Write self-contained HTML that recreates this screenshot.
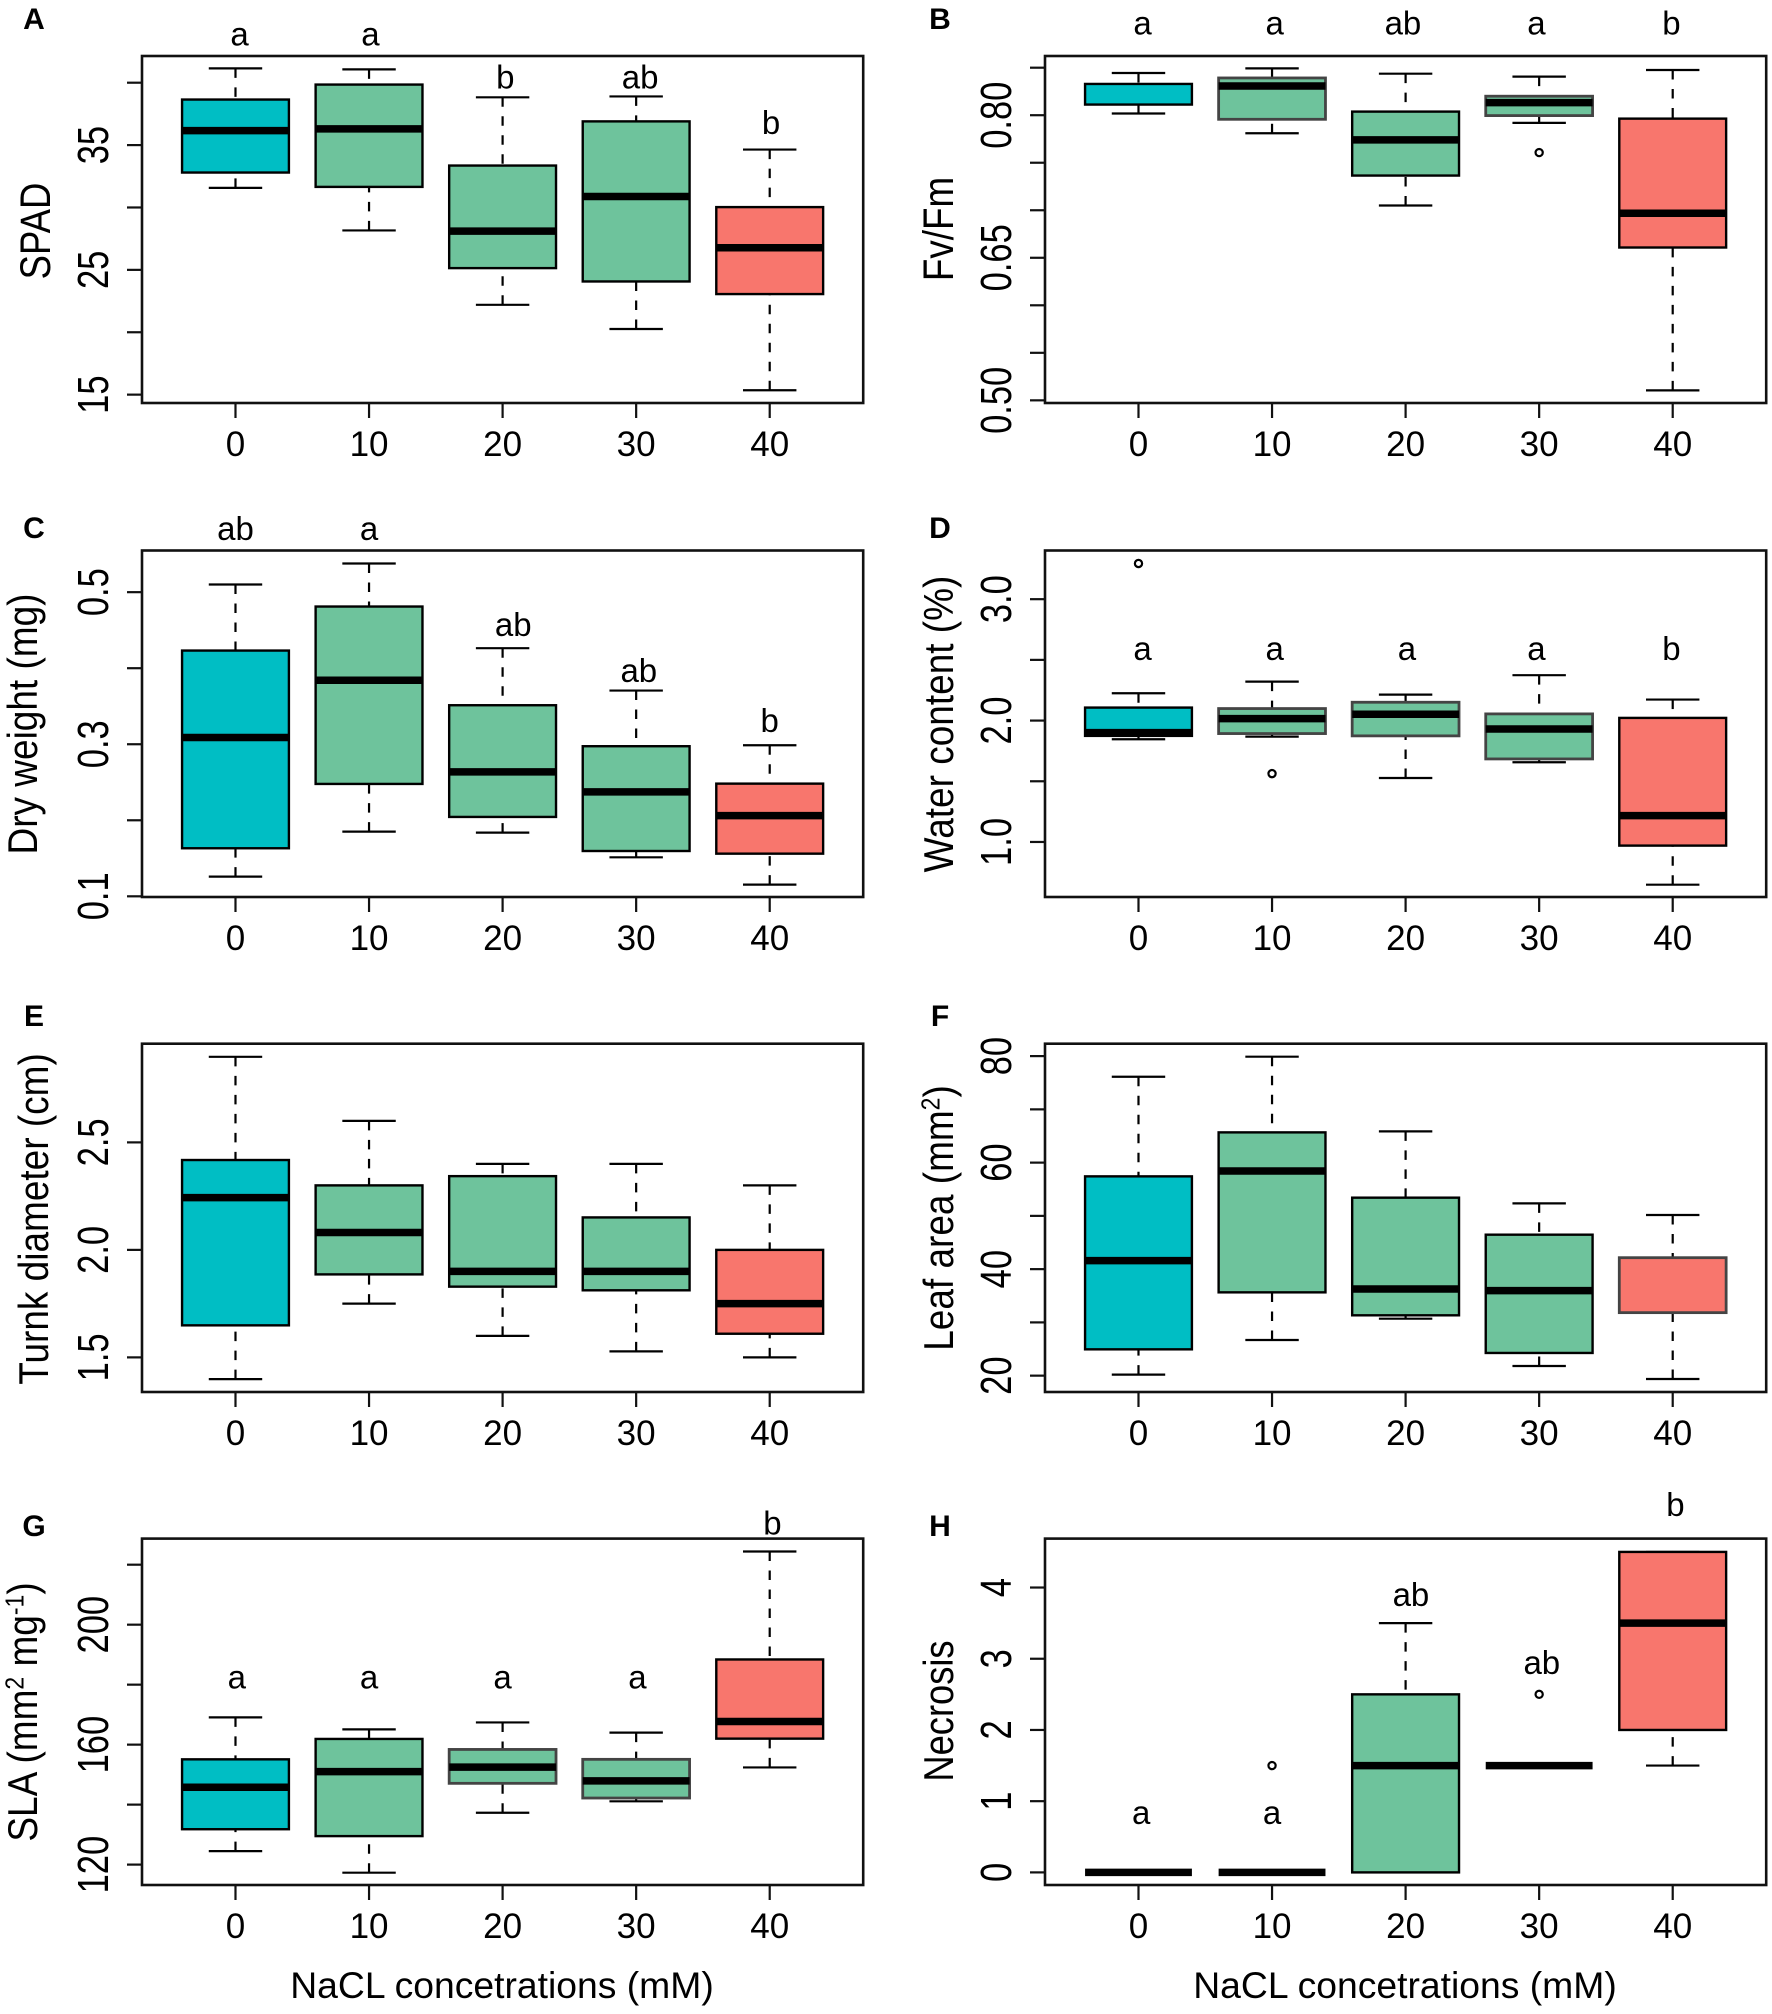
<!DOCTYPE html>
<html lang="en">
<head>
<meta charset="utf-8">
<title>Boxplots of plant traits under NaCl concentrations</title>
<style>
html,body{margin:0;padding:0;background:#fff;}
body{width:1772px;height:2014px;overflow:hidden;}
svg{display:block;}
text{font-family:"Liberation Sans",Arial,sans-serif;fill:#000;}
.panel-letter{font-weight:bold;font-size:30px;text-anchor:middle;}
.y-title{font-size:37px;text-anchor:middle;}
.x-title{font-size:37.3px;text-anchor:middle;}
</style>
</head>
<body>
<svg id="figure" xmlns="http://www.w3.org/2000/svg" width="1772" height="2014" viewBox="0 0 1772 2014">
  <rect x="0" y="0" width="1772" height="2014" fill="#fff"/>
  <g id="panels"></g>

  <text class="panel-letter" x="34" y="29">A</text>
  <text class="panel-letter" x="940" y="29">B</text>
  <text class="panel-letter" x="34" y="538">C</text>
  <text class="panel-letter" x="940" y="538">D</text>
  <text class="panel-letter" x="34" y="1026">E</text>
  <text class="panel-letter" x="940" y="1026">F</text>
  <text class="panel-letter" x="34" y="1536">G</text>
  <text class="panel-letter" x="940" y="1536">H</text>

  <text class="y-title" transform="translate(50,231) rotate(-90) scale(1,1.18)" style="font-size:36.5px">SPAD</text>
  <text class="y-title" transform="translate(953,229) rotate(-90) scale(1,1.15)" style="font-size:36.8px">Fv/Fm</text>
  <text class="y-title" transform="translate(37,724) rotate(-90) scale(1,1.12)">Dry weight (mg)</text>
  <text class="y-title" transform="translate(953,724) rotate(-90) scale(1,1.12)">Water content (%)</text>
  <text class="y-title" transform="translate(48,1219) rotate(-90) scale(1,1.12)">Turnk diameter (cm)</text>
  <text class="y-title" transform="translate(953,1218) rotate(-90) scale(1,1.12)">Leaf area (mm<tspan dy="-12" font-size="23">2</tspan><tspan dy="12">)</tspan></text>
  <text class="y-title" transform="translate(37,1712) rotate(-90) scale(1,1.12)">SLA (mm<tspan dy="-12" font-size="23">2</tspan><tspan dy="12"> mg</tspan><tspan dy="-12" font-size="23">-1</tspan><tspan dy="12">)</tspan></text>
  <text class="y-title" transform="translate(953,1711) rotate(-90) scale(1,1.15)" style="font-size:36.3px">Necrosis</text>

  <text class="x-title" x="502" y="1998">NaCL concetrations (mM)</text>
  <text class="x-title" x="1405" y="1998">NaCL concetrations (mM)</text>
</svg>

<script>
// Shared category labels
const categories = ['0', '10', '20', '30', '40'];

// A: SPAD
const spadDomain = [14.33, 42.14];
const spadTicks = [15, 20, 25, 30, 35, 40];
const spadTickLabels = ['15', '', '25', '', '35', ''];
const spadHigh = [41.15, 41.07, 38.83, 38.9, 34.64];
const spadQ3 = [38.65, 39.85, 33.36, 36.9, 30.03];
const spadMedian = [36.16, 36.3, 28.1, 30.88, 26.77];
const spadQ1 = [32.8, 31.65, 25.14, 24.07, 23.06];
const spadLow = [31.57, 28.16, 22.2, 20.26, 15.35];
const spadOutliers = [];
const spadLetters = ['a', 'a', 'b', 'ab', 'b'];
const spadLetterCats = [1.03, 2.01, 3.02, 4.03, 5.01];
const spadLetterVals = [42.97, 42.97, 39.55, 39.55, 35.9];

// B: Fv/Fm
const fvfmDomain = [0.4972, 0.8623];
const fvfmTicks = [0.5, 0.55, 0.6, 0.65, 0.7, 0.75, 0.8, 0.85];
const fvfmTickLabels = ['0.50', '', '', '0.65', '', '', '0.80', ''];
const fvfmHigh = [0.8444, 0.8493, 0.8437, 0.8406, 0.8476];
const fvfmQ3 = [0.8329, 0.8392, 0.8038, 0.82, 0.7964];
const fvfmMedian = [null, 0.8308, 0.774, 0.8132, 0.6969];
const fvfmQ1 = [0.8112, 0.7957, 0.7365, 0.7996, 0.6608];
const fvfmLow = [0.8018, 0.781, 0.705, 0.7919, 0.5105];
const fvfmOutliers = [[4, 0.7607]];
const fvfmLetters = ['a', 'a', 'ab', 'a', 'b'];
const fvfmLetterCats = [1.03, 2.02, 2.98, 3.98, 4.99];
const fvfmLetterVals = [0.885, 0.885, 0.885, 0.885, 0.885];

// C: Dry weight
const dryDomain = [0.0991, 0.5548];
const dryTicks = [0.1, 0.2, 0.3, 0.4, 0.5];
const dryTickLabels = ['0.1', '', '0.3', '', '0.5'];
const dryHigh = [0.5101, 0.5377, 0.4263, 0.3706, 0.2987];
const dryQ3 = [0.4232, 0.4811, 0.3513, 0.2974, 0.2482];
const dryMedian = [0.3088, 0.3842, 0.2636, 0.2373, 0.2061];
const dryQ1 = [0.1632, 0.2478, 0.2044, 0.1596, 0.1561];
const dryLow = [0.1259, 0.1851, 0.1838, 0.1513, 0.1154];
const dryOutliers = [];
const dryLetters = ['ab', 'a', 'ab', 'ab', 'b'];
const dryLetterCats = [1.0, 2.0, 3.08, 4.02, 5.0];
const dryLetterVals = [0.5684, 0.5684, 0.4421, 0.382, 0.3162];

// D: Water content
const waterDomain = [0.5467, 3.401];
const waterTicks = [1, 1.5, 2, 2.5, 3];
const waterTickLabels = ['1.0', '', '2.0', '', '3.0'];
const waterHigh = [2.225, 2.321, 2.214, 2.374, 2.173];
const waterQ3 = [2.107, 2.099, 2.151, 2.055, 2.022];
const waterMedian = [1.901, 2.016, 2.052, 1.931, 1.217];
const waterQ1 = [1.874, 1.893, 1.874, 1.684, 0.97];
const waterLow = [1.846, 1.868, 1.527, 1.657, 0.648];
const waterOutliers = [[1, 3.294], [2, 1.563]];
const waterLetters = ['a', 'a', 'a', 'a', 'b'];
const waterLetterCats = [1.03, 2.02, 3.01, 3.98, 4.99];
const waterLetterVals = [2.497, 2.497, 2.497, 2.497, 2.497];

// E: Trunk diameter
const trunkDomain = [1.339, 2.959];
const trunkTicks = [1.5, 2, 2.5];
const trunkTickLabels = ['1.5', '2.0', '2.5'];
const trunkHigh = [2.898, 2.6, 2.4, 2.4, 2.3];
const trunkQ3 = [2.418, 2.3, 2.343, 2.151, 2.0];
const trunkMedian = [2.243, 2.081, 1.9, 1.9, 1.75];
const trunkQ1 = [1.649, 1.886, 1.829, 1.812, 1.61];
const trunkLow = [1.399, 1.75, 1.6, 1.528, 1.5];
const trunkOutliers = [];
const trunkLetters = [];
const trunkLetterCats = [];
const trunkLetterVals = [];

// F: Leaf area
const leafDomain = [16.93, 82.33];
const leafTicks = [20, 30, 40, 50, 60, 70, 80];
const leafTickLabels = ['20', '', '40', '', '60', '', '80'];
const leafHigh = [76.13, 79.89, 65.87, 52.35, 50.16];
const leafQ3 = [57.42, 65.68, 53.42, 46.47, 42.15];
const leafMedian = [41.59, 58.42, 36.27, 35.96, null];
const leafQ1 = [24.94, 35.64, 31.33, 24.26, 31.83];
const leafLow = [20.19, 26.7, 30.7, 21.81, 19.37];
const leafOutliers = [];
const leafLetters = [];
const leafLetterCats = [];
const leafLetterVals = [];

// G: SLA
const slaDomain = [113.2, 228.7];
const slaTicks = [120, 140, 160, 180, 200, 220];
const slaTickLabels = ['120', '', '160', '', '200', ''];
const slaHigh = [169.1, 165.1, 167.4, 164, 224.4];
const slaQ3 = [155.1, 161.9, 158.4, 155.1, 188.4];
const slaMedian = [145.8, 151, 152.5, 147.9, 167.7];
const slaQ1 = [131.8, 129.5, 147.1, 142.2, 162];
const slaLow = [124.5, 117.3, 137.3, 141.1, 152.4];
const slaOutliers = [];
const slaLetters = ['a', 'a', 'a', 'a', 'b'];
const slaLetterCats = [1.01, 2.0, 3.0, 4.01, 5.02];
const slaLetterVals = [178.8, 178.8, 178.8, 178.8, 230.1];

// H: Necrosis
const necrosisDomain = [-0.177, 4.687];
const necrosisTicks = [0, 1, 2, 3, 4];
const necrosisTickLabels = ['0', '1', '2', '3', '4'];
const necrosisHigh = [0, 0, 3.5, 1.5, 4.5];
const necrosisQ3 = [0, 0, 2.5, 1.5, 4.5];
const necrosisMedian = [0, 0, 1.5, 1.5, 3.5];
const necrosisQ1 = [0, 0, 0, 1.5, 2];
const necrosisLow = [0, 0, 0, 1.5, 1.5];
const necrosisOutliers = [[2, 1.5], [4, 2.5]];
const necrosisLetters = ['a', 'a', 'ab', 'ab', 'b'];
const necrosisLetterCats = [1.02, 2.0, 3.04, 4.02, 5.02];
const necrosisLetterVals = [0.683, 0.683, 3.741, 2.785, 5.007];

const NS = 'http://www.w3.org/2000/svg';
const root = document.getElementById('panels');

function make(parent, tag, attrs, text) {
  const node = document.createElementNS(NS, tag);
  for (const k in attrs) node.setAttribute(k, attrs[k]);
  if (text !== undefined) node.textContent = text;
  parent.appendChild(node);
  return node;
}

function boxFill(i) {
  if (i === 0) return '#00BEC4';
  if (i === 4) return '#F8766D';
  return '#6EC39C';
}

function drawPanel(key, left, top, bottom, domain, ticks, tickLabels, high, q3, median, q1, low, outliers, letters, letterCats, letterVals, softBoxes) {
  const plotWidth = 721.2;
  const step = plotWidth / 5.4;
  const xAt = function (c) { return left + (c - 0.3) * step; };
  const yAt = function (v) { return bottom - (v - domain[0]) / (domain[1] - domain[0]) * (bottom - top); };

  const g = make(root, 'g', {});
  
  

  // y axis
  ticks.forEach(function (t, i) {
    const tick = make(g, 'line', { x1: left - 15, x2: left, y1: yAt(t), y2: yAt(t), stroke: '#111', 'stroke-width': 2.2 });
    
    
    if (tickLabels[i]) {
      const yLabel = make(g, 'text', {
        transform: 'translate(' + (left - 34) + ',' + yAt(t) + ') rotate(-90) scale(1,1.25)',
        'text-anchor': 'middle', 'font-size': 34.5
      }, tickLabels[i]);
      
      
    }
  });

  // x axis
  categories.forEach(function (c, i) {
    const x = xAt(i + 1);
    const tick = make(g, 'line', { x1: x, x2: x, y1: bottom, y2: bottom + 15, stroke: '#111', 'stroke-width': 2.2 });
    
    
    const xLabel = make(g, 'text', { x: x, y: bottom + 53, 'text-anchor': 'middle', 'font-size': 35 }, c);
    
    
  });

  // boxes
  categories.forEach(function (c, i) {
    const x = xAt(i + 1);
    const halfBox = 0.4 * step;
    const halfCap = 0.2 * step;
    const soft = softBoxes.indexOf(i) >= 0;
    const box = make(g, 'g', {});
    
    

    const wiskStyle = { stroke: '#000', 'stroke-width': 2.2, 'stroke-dasharray': '9.5 9.5' };
    const upper = make(box, 'line', Object.assign({ x1: x, x2: x, y1: yAt(high[i]), y2: yAt(q3[i]) }, wiskStyle));
    
    
    const lower = make(box, 'line', Object.assign({ x1: x, x2: x, y1: yAt(low[i]), y2: yAt(q1[i]) }, wiskStyle));
    
    

    const capHigh = make(box, 'line', { x1: x - halfCap, x2: x + halfCap, y1: yAt(high[i]), y2: yAt(high[i]), stroke: '#000', 'stroke-width': 2.2 });
    
    
    const capLow = make(box, 'line', { x1: x - halfCap, x2: x + halfCap, y1: yAt(low[i]), y2: yAt(low[i]), stroke: '#000', 'stroke-width': 2.2 });
    
    

    const rect = make(box, 'rect', {
      x: x - halfBox, y: yAt(q3[i]), width: 2 * halfBox, height: yAt(q1[i]) - yAt(q3[i]),
      fill: boxFill(i), stroke: soft ? '#444' : '#000', 'stroke-width': soft ? 2.8 : 2.4
    });
    
    

    if (median[i] !== null) {
      const med = make(box, 'line', { x1: x - halfBox, x2: x + halfBox, y1: yAt(median[i]), y2: yAt(median[i]), stroke: '#000', 'stroke-width': 7.5 });
      
      
    }
  });

  // outliers
  outliers.forEach(function (o) {
    const dot = make(g, 'circle', { cx: xAt(o[0]), cy: yAt(o[1]), r: 3.6, fill: 'none', stroke: '#000', 'stroke-width': 2.2 });
    
    
  });

  // significance letters
  letters.forEach(function (l, i) {
    const letter = make(g, 'text', {
      x: xAt(letterCats[i]), y: yAt(letterVals[i]),
      'text-anchor': 'middle', 'font-size': 33
    }, l);
    
    
  });

  // frame
  const frame = make(g, 'rect', { x: left, y: top, width: plotWidth, height: bottom - top, fill: 'none', stroke: '#111', 'stroke-width': 2.6 });
  
  
}

const leftX = 142, rightX = 1045;
drawPanel('spad', leftX, 56, 403, spadDomain, spadTicks, spadTickLabels, spadHigh, spadQ3, spadMedian, spadQ1, spadLow, spadOutliers, spadLetters, spadLetterCats, spadLetterVals, []);
drawPanel('fvfm', rightX, 56, 403, fvfmDomain, fvfmTicks, fvfmTickLabels, fvfmHigh, fvfmQ3, fvfmMedian, fvfmQ1, fvfmLow, fvfmOutliers, fvfmLetters, fvfmLetterCats, fvfmLetterVals, [1, 3]);
drawPanel('dry-weight', leftX, 550.5, 897, dryDomain, dryTicks, dryTickLabels, dryHigh, dryQ3, dryMedian, dryQ1, dryLow, dryOutliers, dryLetters, dryLetterCats, dryLetterVals, []);
drawPanel('water-content', rightX, 550.5, 897, waterDomain, waterTicks, waterTickLabels, waterHigh, waterQ3, waterMedian, waterQ1, waterLow, waterOutliers, waterLetters, waterLetterCats, waterLetterVals, [1, 2, 3]);
drawPanel('trunk-diameter', leftX, 1043.7, 1392, trunkDomain, trunkTicks, trunkTickLabels, trunkHigh, trunkQ3, trunkMedian, trunkQ1, trunkLow, trunkOutliers, trunkLetters, trunkLetterCats, trunkLetterVals, []);
drawPanel('leaf-area', rightX, 1043.7, 1392, leafDomain, leafTicks, leafTickLabels, leafHigh, leafQ3, leafMedian, leafQ1, leafLow, leafOutliers, leafLetters, leafLetterCats, leafLetterVals, [4]);
drawPanel('sla', leftX, 1538.6, 1885, slaDomain, slaTicks, slaTickLabels, slaHigh, slaQ3, slaMedian, slaQ1, slaLow, slaOutliers, slaLetters, slaLetterCats, slaLetterVals, [2, 3]);
drawPanel('necrosis', rightX, 1538.6, 1885, necrosisDomain, necrosisTicks, necrosisTickLabels, necrosisHigh, necrosisQ3, necrosisMedian, necrosisQ1, necrosisLow, necrosisOutliers, necrosisLetters, necrosisLetterCats, necrosisLetterVals, []);
</script>
</body>
</html>
